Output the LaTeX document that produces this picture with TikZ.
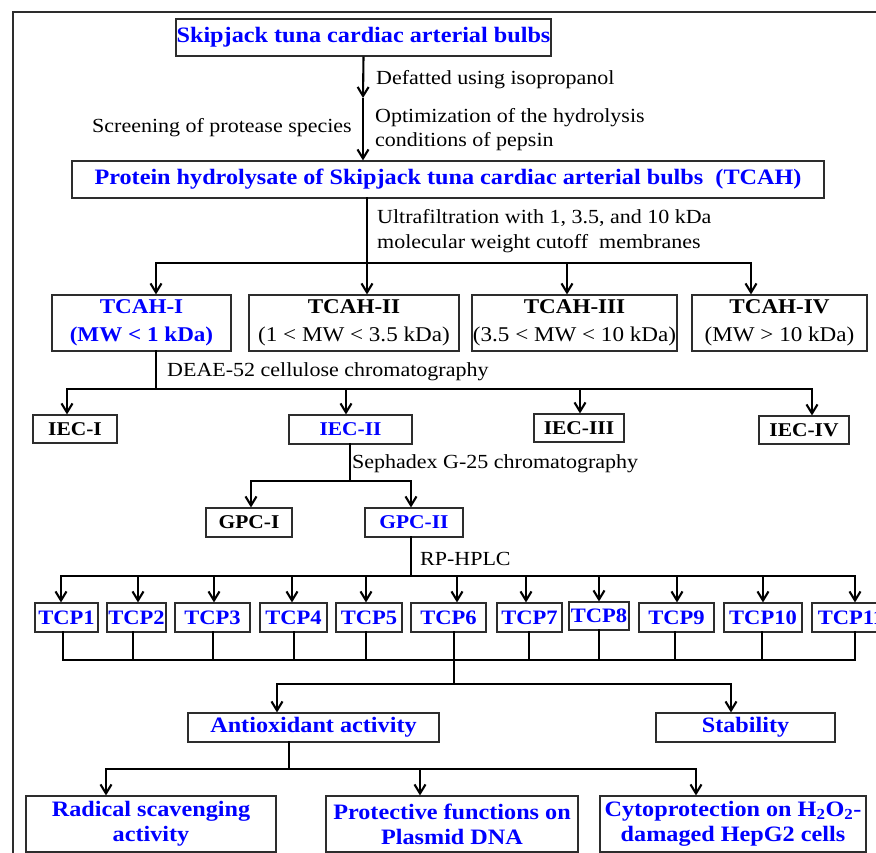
\documentclass[tikz,border=0pt]{standalone}
\usepackage{fontspec}
\setmainfont{Liberation Serif}[FakeStretch=1.10]
\usetikzlibrary{arrows.meta}
\definecolor{tb}{RGB}{0,0,255}
\definecolor{edge}{RGB}{45,45,45}
\begin{document}
\begin{tikzpicture}[x=1pt,y=-1pt,
  bx/.style={draw=edge,line width=1.1pt,fill=white,inner sep=0pt,align=center},
  big/.style={bx,text=tb,font=\fontsize{22}{25}\selectfont\bfseries},
  frac/.style={bx,minimum height=56,font=\fontsize{21}{28}\selectfont},
  iec/.style={bx,minimum height=28,font=\fontsize{19.5}{23}\selectfont\bfseries},
  tcp/.style={bx,minimum height=29,text=tb,font=\fontsize{20.5}{24}\selectfont\bfseries},
  lab/.style={inner sep=0pt,align=left,font=\fontsize{20}{24.5}\selectfont},
  conn/.style={line width=2.3pt,draw=black,line cap=rect},
  arr/.style={line width=2.1pt,draw=black,-{Straight Barb[length=9pt,width=11pt]}}]
\useasboundingbox (0,0) rectangle (876,853);
\fill[white] (0,0) rectangle (876,853);
% frame
\draw[edge,line width=1.3pt] (13,853) -- (13,12) -- (876,12);

% top
\node[big,minimum width=375,minimum height=37] (A) at (363.5,37.5) {Skipjack tuna cardiac arterial bulbs};
\node[big,minimum width=752,minimum height=37] (B) at (448,179.5) {Protein hydrolysate of Skipjack tuna cardiac arterial bulbs\ \ (TCAH)};
\coordinate (m1) at (363,98);
\draw[arr] (A.south) -- (m1);
\draw[arr] (m1) -- (m1 |- B.north);
\node[lab,anchor=west] (l1) at (376,80) {Defatted using isopropanol};
\node[lab,anchor=east] (l2) at (352,128) {Screening of protease species};
\node[lab,anchor=west] (l3) at (375,129.5) {Optimization of the hydrolysis\\conditions of pepsin};
\node[lab,anchor=west] (l4) at (377,231) {Ultrafiltration with 1, 3.5, and 10 kDa\\molecular weight cutoff\ \ membranes};

% TCAH fractions
\node[frac,text=tb,minimum width=179] (T1) at (141.5,323) {\textbf{TCAH-I}\\\textbf{(MW < 1 kDa)}};
\node[frac,minimum width=210] (T2) at (354,323) {\textbf{TCAH-II}\\(1 < MW < 3.5 kDa)};
\node[frac,minimum width=205] (T3) at (574.5,323) {\textbf{TCAH-III}\\(3.5 < MW < 10 kDa)};
\node[frac,minimum width=175] (T4) at (779.5,323) {\textbf{TCAH-IV}\\(MW > 10 kDa)};
\draw[conn] (367,263 |- B.south) -- (367,263);
\draw[conn] (156,263) -- (751,263);
\foreach \x/\n in {156/T1,367/T2,567/T3,751/T4}
  \draw[arr] (\x,263) -- (\x,263 |- \n.north);

% IEC
\node[lab,anchor=west] (l5) at (167,372) {DEAE-52 cellulose chromatography};
\node[iec,minimum width=84] (I1) at (75,429) {IEC-I};
\node[iec,text=tb,minimum width=123,minimum height=29] (I2) at (350.5,429.5) {IEC-II};
\node[iec,minimum width=90] (I3) at (579,428) {IEC-III};
\node[iec,minimum width=90] (I4) at (804,430) {IEC-IV};
\draw[conn] (156,389 |- T1.south) -- (156,389);
\draw[conn] (67,389) -- (812,389);
\foreach \x/\n in {67/I1,346/I2,580/I3,812/I4}
  \draw[arr] (\x,389) -- (\x,389 |- \n.north);

% GPC
\node[lab,anchor=west] (l6) at (352,464) {Sephadex G-25 chromatography};
\node[iec,minimum width=86,minimum height=29] (G1) at (249,522.5) {GPC-I};
\node[iec,text=tb,minimum width=98,minimum height=29] (G2) at (414,522.5) {GPC-II};
\draw[conn] (350,481 |- I2.south) -- (350,481);
\draw[conn] (251,481) -- (411,481);
\foreach \x/\n in {251/G1,411/G2}
  \draw[arr] (\x,481) -- (\x,481 |- \n.north);

% TCP
\node[lab,anchor=west] (l7) at (420,559) {RP-HPLC};
\node[tcp,minimum width=63] (P1) at (66.5,617.5) {TCP1};
\node[tcp,minimum width=59] (P2) at (136.5,617.5) {TCP2};
\node[tcp,minimum width=75] (P3) at (212.5,617.5) {TCP3};
\node[tcp,minimum width=67] (P4) at (293.5,617.5) {TCP4};
\node[tcp,minimum width=66] (P5) at (369,617.5) {TCP5};
\node[tcp,minimum width=75] (P6) at (448.5,617.5) {TCP6};
\node[tcp,minimum width=65] (P7) at (529.5,617.5) {TCP7};
\node[tcp,minimum width=60,minimum height=28] (P8) at (599,616) {TCP8};
\node[tcp,minimum width=75] (P9) at (676.5,617.5) {TCP9};
\node[tcp,minimum width=78] (P10) at (763,617.5) {TCP10};
\node[tcp,minimum width=78] (P11) at (851,617.5) {TCP11};
\draw[conn] (411,576 |- G2.south) -- (411,576);
\draw[conn] (61,576) -- (855,576);
\foreach \x/\n in {61/P1,138/P2,214/P3,292/P4,366/P5,457/P6,526/P7,599/P8,677/P9,763/P10,855/P11}
  \draw[arr] (\x,576) -- (\x,576 |- \n.north);
\foreach \x/\n in {63/P1,133/P2,213/P3,294/P4,366/P5,454/P6,529/P7,599/P8,675/P9,762/P10,855/P11}
  \draw[conn] (\x,660 |- \n.south) -- (\x,660);
\draw[conn] (63,660) -- (855,660);

% Antioxidant / Stability
\node[big,minimum width=251,minimum height=29] (AO) at (313.5,727.5) {Antioxidant activity};
\node[big,minimum width=179,minimum height=29] (ST) at (745.5,727.5) {Stability};
\coordinate (j1) at (454,684);
\draw[conn] (454,660) -- (j1);
\draw[conn] (277,684) -- (731,684);
\draw[arr] (277,684) -- (277,684 |- AO.north);
\draw[arr] (731,684) -- (731,684 |- ST.north);

% bottom
\node[big,minimum width=250,minimum height=56] (R1) at (151,824) {Radical scavenging\\activity};
\node[big,minimum width=252,minimum height=56] (R2) at (452,824) {Protective functions on\\Plasmid DNA};
\node[big,minimum width=266,minimum height=56] (R3) at (733,824) {Cytoprotection on H\textsubscript{2}O\textsubscript{2}-\\damaged HepG2 cells};
\draw[conn] (289,769 |- AO.south) -- (289,769);
\draw[conn] (106,769) -- (696,769);
\foreach \x/\n in {106/R1,420/R2,696/R3}
  \draw[arr] (\x,769) -- (\x,769 |- \n.north);
\end{tikzpicture}
\end{document}
